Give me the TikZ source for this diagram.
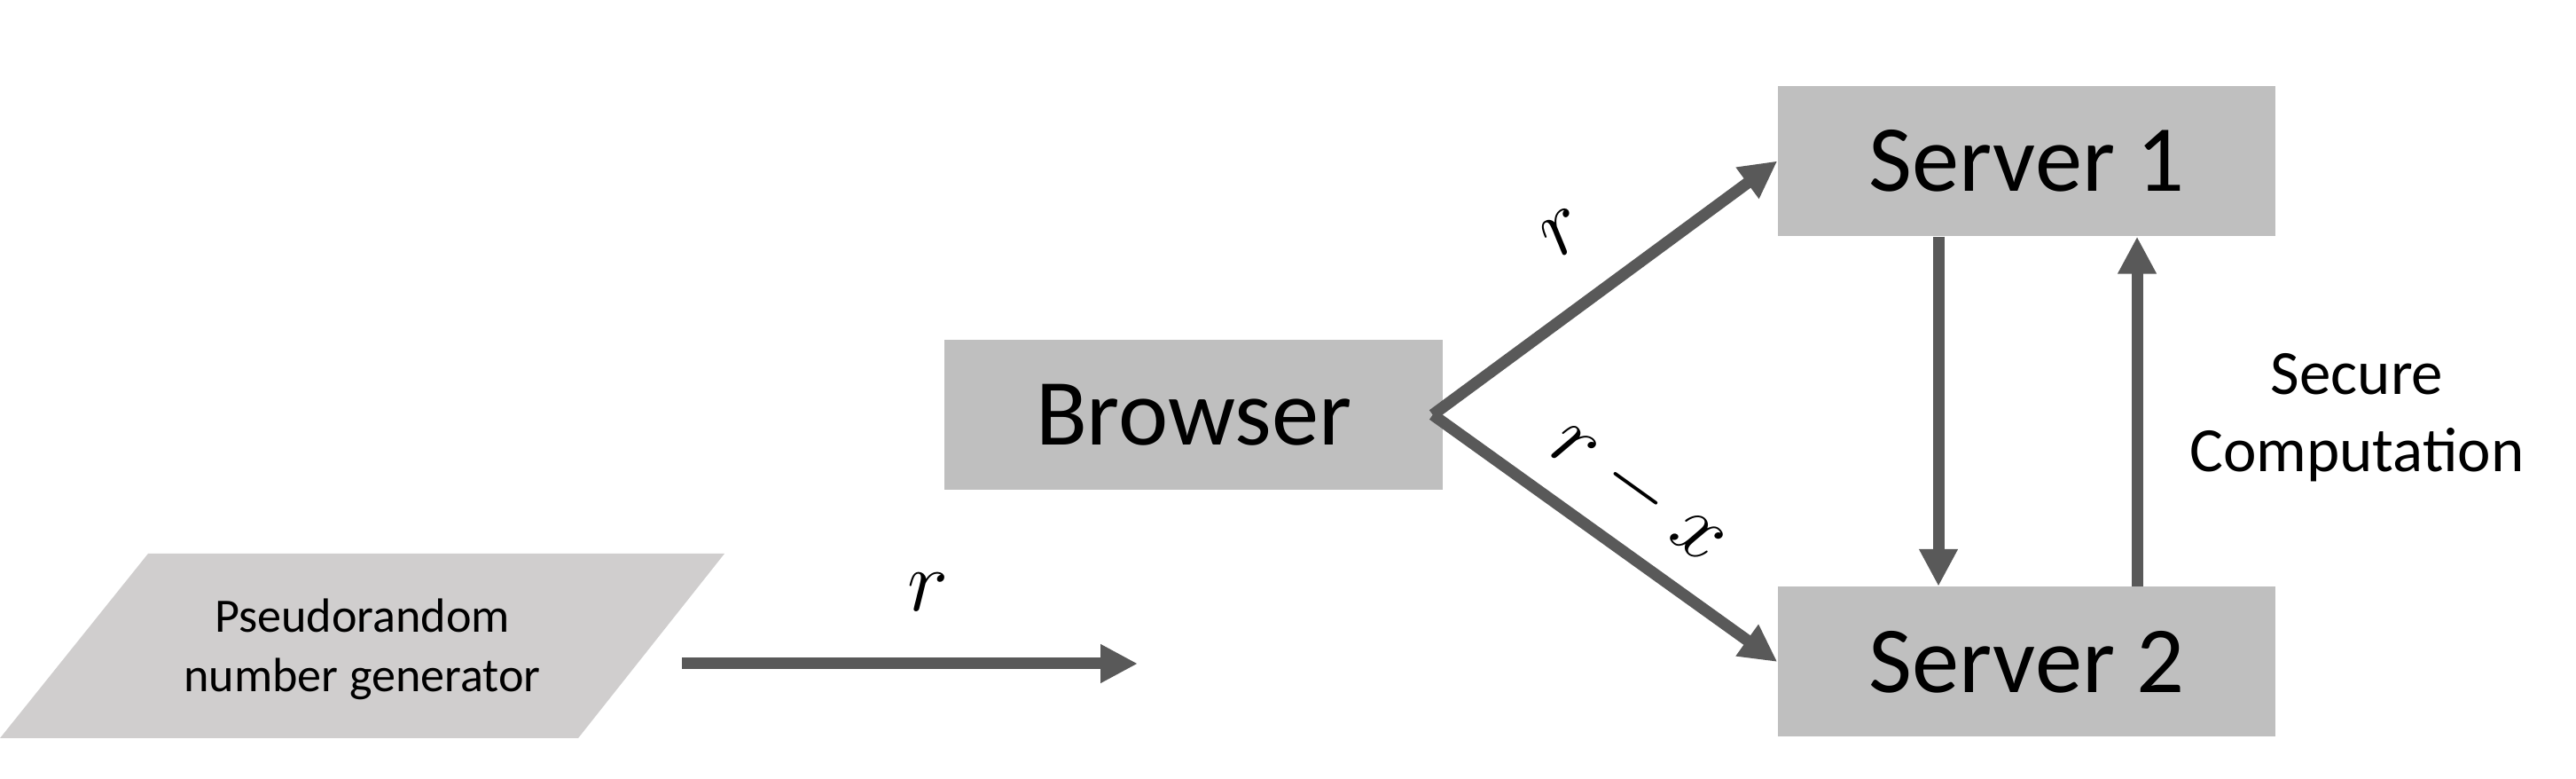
\RequirePackage{fix-cm}
\documentclass[tikz,border=0pt]{standalone}
\usepackage{fontspec}
\setmainfont{Carlito}
\usepackage{tikz}
\usetikzlibrary{arrows.meta, positioning, calc}
\definecolor{boxFill}{RGB}{191,191,191}
\definecolor{prngFill}{RGB}{208,206,206}
\definecolor{arrGray}{RGB}{89,89,89}

\begin{document}
\begin{tikzpicture}[
    party/.style={rectangle, fill=boxFill, minimum width=5.61cm, minimum height=1.69cm, inner sep=0pt, font=\fontsize{30.3}{36}\selectfont},
    gen/.style={align=center, inner sep=0pt, font=\fontsize{15.4}{19}\selectfont},
    note/.style={align=center, inner sep=0pt, font=\fontsize{20.2}{24.7}\selectfont},
    arr/.style={-{Triangle[length=4.2mm, width=4.1mm]}, line width=3.7pt, draw=arrGray},
    mlbl/.style={inner sep=0pt, font=\fontsize{28}{32}\selectfont},
]
\useasboundingbox (0,0) rectangle (29.05,8.78);

% ========== PRNG (parallelogram, bottom left) ==========
\fill[prngFill] (0,0.46) -- (6.52,0.46) -- (8.17,2.54) -- (1.67,2.54) -- cycle;
\node[gen] at (4.085,1.46) (prng) {Pseudorandom\\number generator};

% ========== Browser and the two servers ==========
\node[party, minimum width=5.62cm] at (13.46,4.105) (browser) {Browser};
\node[party] at (22.855,6.965) (s1) {Server 1};
\node[party] at (22.855,1.32) (s2) {Server 2};
\node[note] at (26.58,4.07) (sec) {Secure\\Computation};

% ========== CONNECTIONS ==========

% --- r out of the generator (free arrow) ---
\coordinate (rnd_from) at (7.69,1.30);
\coordinate (rnd_to) at (12.83,1.30);
\draw[arr] (rnd_from) -- node[mlbl, pos=0.54, above=0.53cm] (lbl_r0) {$r$} (rnd_to);

% --- Browser -> Server 1 / Server 2 ---
\coordinate (fork) at ([xshift=-0.12cm]browser.east);
\draw[arr] (fork) -- node[mlbl, sloped, above=0.5cm] (lbl_r1) {$r$} (s1.west);
\draw[arr] (fork) -- node[mlbl, sloped, above=0.26cm] (lbl_rx) {$r-x$} (s2.west);

% --- Server 1 <-> Server 2 ---
\draw[arr] ([xshift=-0.995cm]s1.south) -- ([xshift=-0.995cm]s2.north);
\draw[arr] ([xshift=1.245cm]s2.north) -- ([xshift=1.245cm]s1.south);

\end{tikzpicture}
\end{document}
